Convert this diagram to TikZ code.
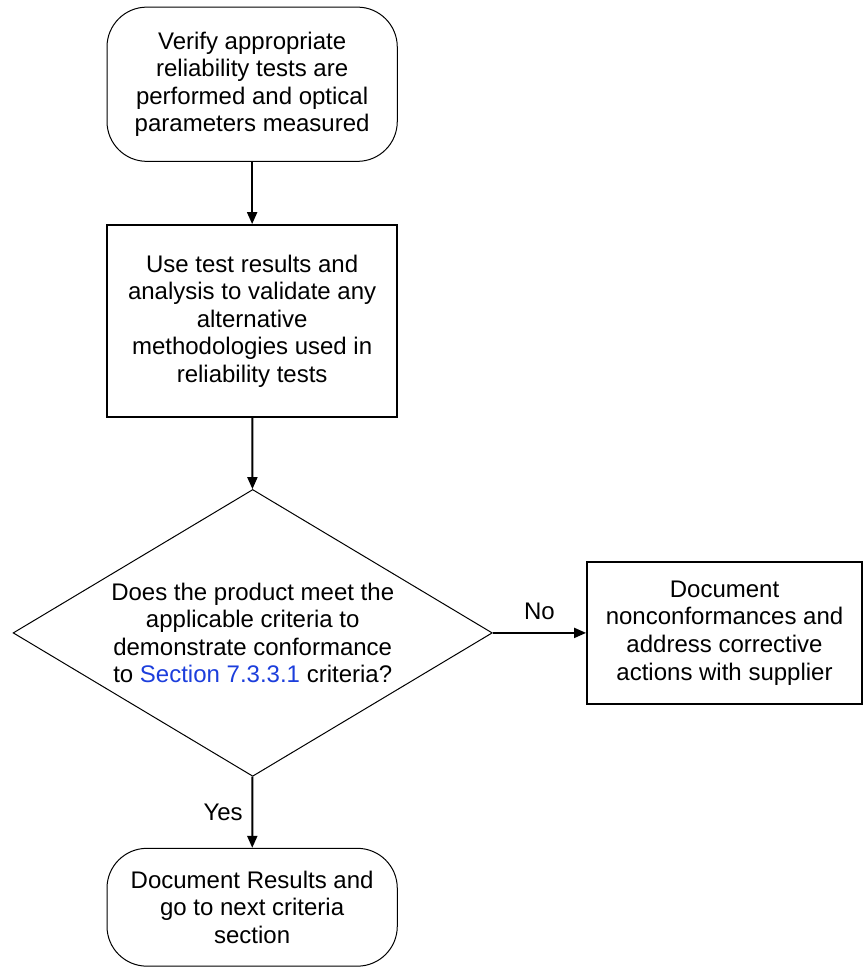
\documentclass[tikz,border=0pt]{standalone}
\usepackage{fontspec}
\setmainfont{Liberation Sans}
\usepackage{tikz}
\usetikzlibrary{arrows.meta, shapes.geometric, positioning}
\definecolor{linkblue}{RGB}{28,62,220}

\begin{document}
\begin{tikzpicture}[
  every node/.style={font=\fontsize{12}{13.8}\selectfont},
  terminal/.style={draw, line width=0.5pt, rounded corners=0.7cm, minimum width=5.10cm, align=center},
  process/.style={draw, line width=1pt, minimum width=5.10cm, align=center},
  decision/.style={draw, diamond, aspect=1.67, line width=0.5pt, inner sep=0pt,
    minimum width=8.42cm, minimum height=5.04cm, align=center},
  arr/.style={line width=1pt, -{Triangle[length=6pt,width=5pt]}}
]
\useasboundingbox (0,0) rectangle (15.20,-16.99);

% Start
\node[terminal, minimum height=2.71cm] (verify) at (4.43,-1.48)
  {Verify appropriate\\reliability tests are\\performed and optical\\parameters measured};

% Validate
\node[process, minimum height=3.37cm] (validate) at (4.43,-5.64)
  {Use test results and\\analysis to validate any\\alternative\\methodologies used in\\reliability tests};

% Decision
\node[decision] (meet) at (4.44,-11.12)
  {Does the product meet the\\applicable criteria to\\demonstrate conformance\\to \textcolor{linkblue}{Section 7.3.3.1} criteria?};

% No branch
\node[process, minimum width=4.83cm, minimum height=2.50cm] (nonconf) at (12.73,-11.12)
  {Document\\nonconformances and\\address corrective\\actions with supplier};

% End
\node[terminal, minimum height=2.07cm] (results) at (4.43,-15.94)
  {Document Results and\\go to next criteria\\section};

% Arrows
\draw[arr] (verify) -- (validate);
\draw[arr] (validate) -- (meet);
\draw[arr] (meet) -- node[above=3pt] {No} (nonconf);
\draw[arr] (meet) -- node[left=1pt] {Yes} (results);
\end{tikzpicture}
\end{document}
